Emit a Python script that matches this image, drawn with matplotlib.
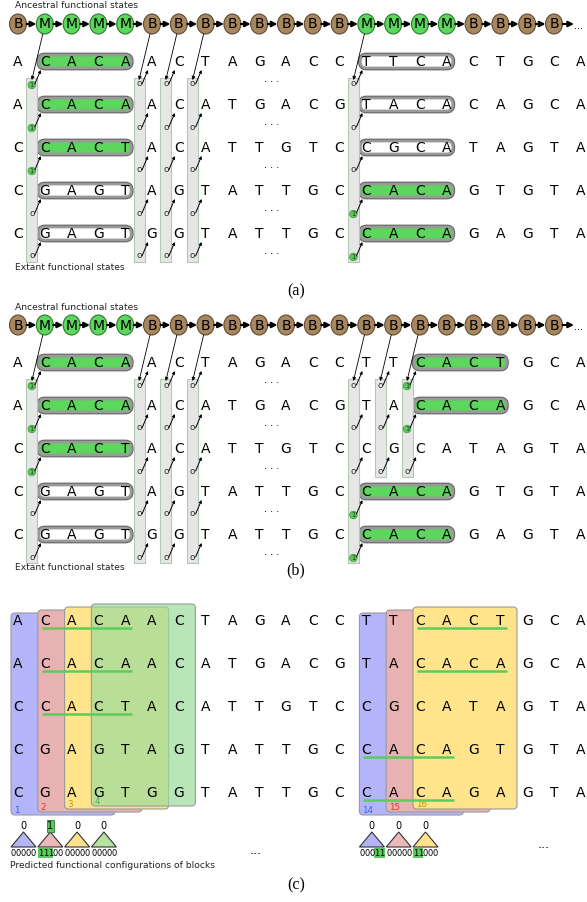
import matplotlib.pyplot as plt
from matplotlib.patches import FancyBboxPatch, Ellipse, Circle, Rectangle, Polygon

# ---- data ----
SEQUENCES = [
    "ACACAACTAGACCTTCACTGCA",
    "ACACAACATGACGTACACAGCA",
    "CCACTACATTGTCCGCATAGTA",
    "CGAGTAGTATTGCCACAGTGTA",
    "CGAGTGGTATTGCCACAGAGTA",
]

ANCESTRAL_A = "BMMMMBBBBBBBBMMMMBBBB"
ANCESTRAL_B = "BMMMMBBBBBBBBBBBBBBBB"

# (column, per-row extant state) ; '-' = no label in that row
BOXES_A = [(1, "11100"), (5, "00000"), (6, "00000"), (7, "00000"), (13, "00011")]
BOXES_B = [(1, "11100"), (5, "00000"), (6, "00000"), (7, "00000"), (13, "00011"),
           (14, "000--"), (15, "110--")]

# (start column, per-row motif state) ; '1' green bar, '0' white bar, '-' none
BARS_A = [(1, "11100"), (13, "00011")]
BARS_B = [(1, "11100"), (15, "11---"), (13, "---11")]

BLOCK_IDS = ["1", "2", "3", "4", "14", "15", "16"]
BLOCK_START = [0, 1, 2, 3, 13, 14, 15]
BLOCK_CONFIG = ["00000", "11100", "00000", "00000", "00011", "00000", "11000"]
BLOCK_PRED = ["0", "1", "0", "0", "0", "0", "0"]

BLOCK_FILL = ['#B4B4FA', '#E8B2B2', '#FFE48C', '#9CDC9C', '#B4B4FA', '#E8B2B2', '#FFE48C']
BLOCK_ALPHA = [1, 1, 1, 0.7, 1, 1, 1]
BLOCK_TEXT = ['#3366EE', '#DD3333', '#C09A00', '#55AA55', '#3366EE', '#DD3333', '#C09A00']
TRI_FILL = ['#B4B4F6', '#EDB8B8', '#FFE38C', '#B5E3A0', '#B4B4F6', '#EDB8B8', '#FFE38C']

# ---- layout ----
X0, DX = 18, 26.8
ROW_DY = 43
GREEN = '#5CD65C'
BROWN = '#A8875F'


def col_x(i):
    return X0 + DX * i


fig = plt.figure(figsize=(5.87, 9.02), dpi=100)
ax = fig.add_axes([0, 0, 1, 1])
ax.set_xlim(0, 587)
ax.set_ylim(902, 0)
ax.axis('off')


def arrow(p0, p1, lw=0.7, ms=5):
    ax.annotate('', xy=p1, xytext=p0,
                arrowprops=dict(arrowstyle='-|>', color='black', lw=lw,
                                mutation_scale=ms, shrinkA=0, shrinkB=0), zorder=5)


def draw_letters(rows):
    for k, seq in enumerate(SEQUENCES):
        for i, ch in enumerate(seq):
            ax.text(col_x(i), rows[k], ch, fontsize=10, ha='center', va='center', zorder=4)


def draw_panel(cy, ancestral, boxes, bars):
    rows = [cy + 38 + ROW_DY * k for k in range(len(SEQUENCES))]
    ax.text(15, cy - 18, "Ancestral functional states", fontsize=6.6, va='center', color='#222')
    ax.text(15, rows[-1] + 33, "Extant functional states", fontsize=6.6, va='center', color='#222')

    # ancestral chain
    for i, s in enumerate(ancestral):
        x = col_x(i)
        fc = GREEN if s == 'M' else BROWN
        ec = '#2E7A2E' if s == 'M' else '#5E4A32'
        ax.add_patch(Ellipse((x, cy), 17, 20, fc=fc, ec=ec, lw=0.8, zorder=3))
        ax.text(x, cy + 0.5, s, fontsize=10, ha='center', va='center', zorder=4)
        end = col_x(i + 1) - 8.5 if i < len(ancestral) - 1 else col_x(i) + 20
        arrow((x + 8.5, cy), (end, cy), lw=1.5, ms=8)
    ax.text(574, cy + 2, "...", fontsize=7, va='center')

    # motif bars
    for s, states in bars:
        x0 = col_x(s) - 6
        w = col_x(s + 3) + 6 - x0
        for k, st in enumerate(states):
            if st == '-':
                continue
            fc = GREEN if st == '1' else 'white'
            for ec, lw in (('#5E5E5E', 3.4), ('#9A9A9A', 2.0)):
                ax.add_patch(FancyBboxPatch((x0, rows[k] - 7), w, 13,
                                            boxstyle='round,pad=0,rounding_size=6',
                                            fc=fc, ec=ec, lw=lw, zorder=1))

    # extant state boxes
    for c, states in boxes:
        cx = col_x(c) - 13
        n = len(states.rstrip('-'))
        top = rows[0] + 16
        ax.add_patch(Rectangle((cx - 5.5, top), 11, rows[n - 1] + 28 - top,
                               fc='#E6E6E6', ec='#B3C8B3', lw=0.8, zorder=1))
        arrow((col_x(c) - 2, cy + 10), (cx, top + 2), lw=0.6, ms=5)
        for k, st in enumerate(states):
            if st == '-':
                continue
            y = rows[k] + 23
            if st == '1':
                ax.add_patch(Circle((cx, y), 3.8, fc='#5CC85C', ec='#3A9A3A', lw=0.5, zorder=3))
                ax.text(cx, y + 0.3, '1', fontsize=4.8, ha='center', va='center', color='#1A3A1A', zorder=4)
            else:
                ax.text(cx, y - 1, 'o', fontsize=6.5, ha='center', va='center', color='#333', zorder=4)
            arrow((cx + 3, y - 1), (col_x(c) - 4, rows[k] + 8), lw=0.7, ms=4)

    for r in rows:
        ax.text(272, r + 20, "· · ·", fontsize=7, ha='center', va='center')
    draw_letters(rows)


draw_panel(24, ANCESTRAL_A, BOXES_A, BARS_A)
draw_panel(325, ANCESTRAL_B, BOXES_B, BARS_B)

# ---- panel (c) ----
rows_c = [621 + ROW_DY * k for k in range(len(SEQUENCES))]
for b, (bid, s) in enumerate(zip(BLOCK_IDS, BLOCK_START)):
    m = b if b < 4 else b - 4
    left = col_x(s) - 7
    top, bottom = 613 - 3 * m, 815 - 3 * m
    ax.add_patch(FancyBboxPatch((left, top), 104, bottom - top,
                                boxstyle='round,pad=0,rounding_size=4',
                                fc=BLOCK_FILL[b], alpha=BLOCK_ALPHA[b], ec='none', zorder=1))
    ax.add_patch(FancyBboxPatch((left, top), 104, bottom - top,
                                boxstyle='round,pad=0,rounding_size=4',
                                fc='none', ec='#9A9A9A', lw=0.8, zorder=1))
    ax.text(left + 3, bottom - 4.5, bid, fontsize=6.3, color=BLOCK_TEXT[b], va='center', zorder=2)

    # underline functional occurrences
    for k, st in enumerate(BLOCK_CONFIG[b]):
        if st == '1':
            ax.plot([col_x(s) - 3, col_x(s + 3) + 7], [rows_c[k] + 7] * 2,
                    color='#5CCC5C', lw=1.8, zorder=3, solid_capstyle='butt')

    # predicted configuration
    tx = col_x(s) + 5.5
    ax.add_patch(Polygon([(tx - 12.5, 847), (tx, 832), (tx + 12.5, 847)],
                         closed=True, fc=TRI_FILL[b], ec='#333', lw=0.8, zorder=2))
    if BLOCK_PRED[b] == '1':
        ax.add_patch(Rectangle((tx - 3.5, 819.5), 7, 12, fc='#5CC85C', ec='#2E7A2E', lw=0.6, zorder=2))
    ax.text(tx, 826, BLOCK_PRED[b], fontsize=7, ha='center', va='center', zorder=3)
    for d, bit in enumerate(BLOCK_CONFIG[b]):
        dx = tx + (d - 2) * 5
        if bit == '1':
            ax.add_patch(Rectangle((dx - 2.6, 848), 5.2, 10, fc='#5CC85C', ec='none', zorder=2))
        ax.text(dx, 853.5, bit, fontsize=6, ha='center', va='center', zorder=3)

draw_letters(rows_c)
ax.text(256, 851, "...", fontsize=9, ha='center', va='center')
ax.text(544, 845, "...", fontsize=9, ha='center', va='center')
ax.text(10, 866, "Predicted functional configurations of blocks", fontsize=6.6, va='center', color='#222')

# panel labels
for lbl, y in (("(a)", 291), ("(b)", 570), ("(c)", 885)):
    ax.text(296, y, lbl, fontsize=11.5, ha='center', va='center', family='Liberation Serif')

fig.savefig('out.png', dpi=100)
